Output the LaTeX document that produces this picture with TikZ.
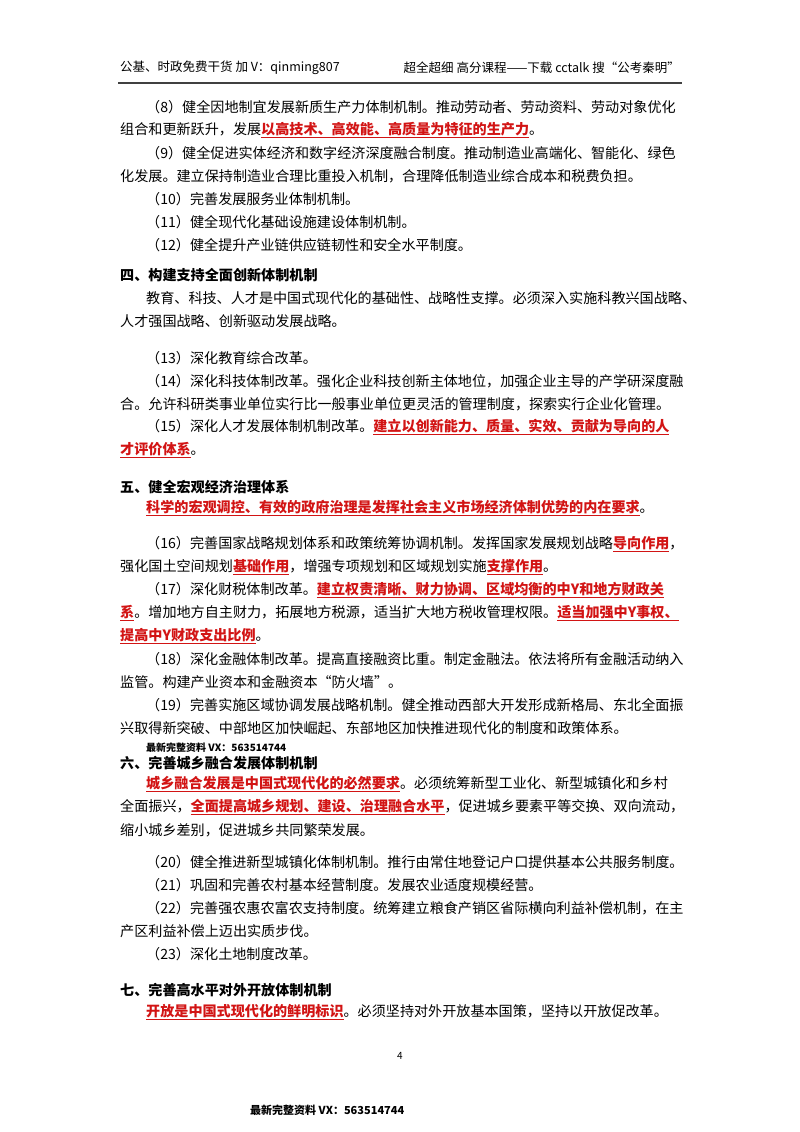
\documentclass[tikz,border=0pt]{standalone}
\usepackage{fontspec}
\setmainfont{Noto Sans CJK SC}
\definecolor{rd}{RGB}{210,20,20}
\newcommand\R[1]{\textcolor{rd}{\bfseries\underline{#1}}}
\newcommand\Jf[2]{\node[anchor=west,inner sep=0] at (120,#1) {#2};}
\newcommand\Ji[2]{\node[anchor=west,inner sep=0] at (146,#1) {#2};}
\newcommand\Lf[2]{\node[anchor=west,inner sep=0] at (120,#1) {#2};}
\newcommand\Li[2]{\node[anchor=west,inner sep=0] at (146,#1) {#2};}
\begin{document}
\begin{tikzpicture}[x=1pt,y=-1pt,every node/.style={font=\fontsize{14.1}{14}\selectfont}]
\useasboundingbox (0,0) rectangle (800,1132);
\fill[white] (0,0) rectangle (800,1132);
\node[anchor=west,inner sep=0,font=\fontsize{12.5}{12}\selectfont] (hl) at (120,68) {公基、时政免费干货 加 V：qinming807};
\node[anchor=east,inner sep=0,font=\fontsize{12.5}{12}\selectfont] (hr) at (680,68) {超全超细 高分课程——下载 cctalk 搜“公考秦明”};
\draw[line width=2.5pt,black!75] (118,83) -- (682,83);
\Ji{107}{（8）健全因地制宜发展新质生产力体制机制。推动劳动者、劳动资料、劳动对象优化}
\Lf{130}{组合和更新跃升，发展\R{以高技术、高效能、高质量为特征的生产力}。}
\Ji{153}{（9）健全促进实体经济和数字经济深度融合制度。推动制造业高端化、智能化、绿色}
\Lf{176}{化发展。建立保持制造业合理比重投入机制，合理降低制造业综合成本和税费负担。}
\Li{199}{（10）完善发展服务业体制机制。}
\Li{222}{（11）健全现代化基础设施建设体制机制。}
\Li{245}{（12）健全提升产业链供应链韧性和安全水平制度。}
\Lf{275}{\bfseries 四、构建支持全面创新体制机制}
\Ji{298}{教育、科技、人才是中国式现代化的基础性、战略性支撑。必须深入实施科教兴国战略、}
\Lf{321}{人才强国战略、创新驱动发展战略。}
\Li{358}{（13）深化教育综合改革。}
\Ji{381}{（14）深化科技体制改革。强化企业科技创新主体地位，加强企业主导的产学研深度融}
\Lf{404}{合。允许科研类事业单位实行比一般事业单位更灵活的管理制度，探索实行企业化管理。}
\Ji{427}{（15）深化人才发展体制机制改革。\R{建立以创新能力、质量、实效、贡献为导向的人}}
\Lf{450}{\R{才评价体系}。}
\Lf{487}{\bfseries 五、健全宏观经济治理体系}
\Li{508}{\R{科学的宏观调控、有效的政府治理是发挥社会主义市场经济体制优势的内在要求}。}
\Ji{544}{（16）完善国家战略规划体系和政策统筹协调机制。发挥国家发展规划战略\R{导向作用}，}
\Lf{567}{强化国土空间规划\R{基础作用}，增强专项规划和区域规划实施\R{支撑作用}。}
\Ji{590}{（17）深化财税体制改革。\R{建立权责清晰、财力协调、区域均衡的中Y和地方财政关}}
\Jf{613}{\R{系}。增加地方自主财力，拓展地方税源，适当扩大地方税收管理权限。\R{适当加强中Y事权、}}
\Lf{636}{\R{提高中Y财政支出比例}。}
\Ji{659}{（18）深化金融体制改革。提高直接融资比重。制定金融法。依法将所有金融活动纳入}
\Lf{682}{监管。构建产业资本和金融资本“防火墙”。}
\Ji{705}{（19）完善实施区域协调发展战略机制。健全推动西部大开发形成新格局、东北全面振}
\Lf{728}{兴取得新突破、中部地区加快崛起、东部地区加快推进现代化的制度和政策体系。}
\node[anchor=west,inner sep=0,font=\fontsize{10}{10}\bfseries] (wm1) at (146,748) {最新完整资料 VX：563514744};
\Lf{763}{\bfseries 六、完善城乡融合发展体制机制}
\Ji{784}{\R{城乡融合发展是中国式现代化的必然要求}。必须统筹新型工业化、新型城镇化和乡村}
\Jf{807}{全面振兴，\R{全面提高城乡规划、建设、治理融合水平}，促进城乡要素平等交换、双向流动，}
\Lf{830}{缩小城乡差别，促进城乡共同繁荣发展。}
\Li{862}{（20）健全推进新型城镇化体制机制。推行由常住地登记户口提供基本公共服务制度。}
\Li{885}{（21）巩固和完善农村基本经营制度。发展农业适度规模经营。}
\Ji{908}{（22）完善强农惠农富农支持制度。统筹建立粮食产销区省际横向利益补偿机制，在主}
\Lf{931}{产区利益补偿上迈出实质步伐。}
\Li{954}{（23）深化土地制度改革。}
\Lf{990}{\bfseries 七、完善高水平对外开放体制机制}
\Li{1012}{\R{开放是中国式现代化的鲜明标识}。必须坚持对外开放基本国策，坚持以开放促改革。}
\node[inner sep=0,font=\fontsize{10}{10}\selectfont] (pg) at (400,1056) {4};
\node[anchor=west,inner sep=0,font=\fontsize{11}{11}\bfseries] (wm2) at (250,1110) {最新完整资料 VX：563514744};
\end{tikzpicture}
\end{document}
